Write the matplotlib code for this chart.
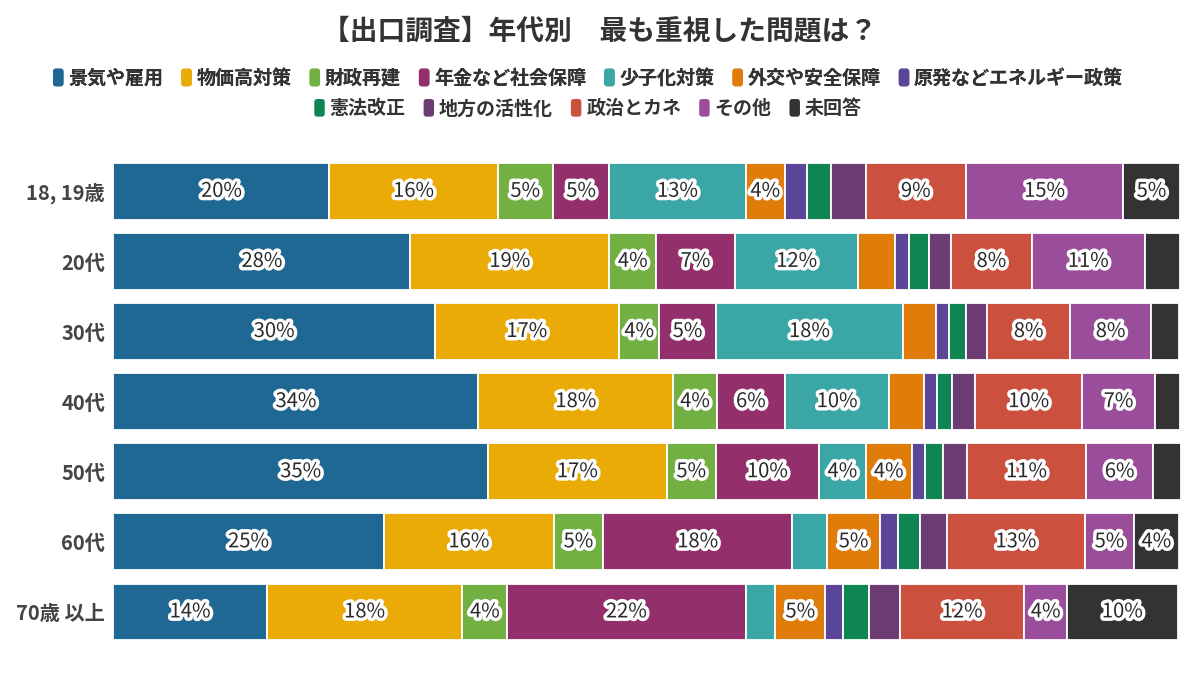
#!/usr/bin/env python3
"""Exit poll: most important issue by age group (100% stacked bars)"""

import matplotlib
matplotlib.use('Agg')
import matplotlib.pyplot as plt
import matplotlib.patches as mpatches
import matplotlib.patheffects as pe
from matplotlib.patches import FancyBboxPatch
from matplotlib.legend_handler import HandlerPatch
import numpy as np

plt.rcParams['font.family'] = ['Noto Sans CJK JP', 'DejaVu Sans']

ages = ['18, 19歳', '20代', '30代', '40代', '50代', '60代', '70歳 以上']
issues = ['景気や雇用', '物価高対策', '財政再建', '年金など社会保障', '少子化対策',
          '外交や安全保障', '原発などエネルギー政策', '憲法改正', '地方の活性化',
          '政治とカネ', 'その他', '未回答']
colors = ['#1f6894', '#ebab07', '#72b043', '#93306c', '#3aa6a6', '#e07c0a',
          '#5b4597', '#0f8554', '#6c3c72', '#cc503e', '#9a4d9b', '#333333']

# shares (%) per issue, one value per age group
keiki    = [20.3, 27.9, 30.2, 34.3, 35.2, 25.4, 14.4]
bukka    = [15.8, 18.7, 17.3, 18.3, 16.8, 16.0, 18.4]
zaisei   = [5.2, 4.4, 3.8, 4.1, 4.6, 4.6, 4.2]
nenkin   = [5.3, 7.4, 5.3, 6.4, 9.7, 17.8, 22.4]
shoshika = [12.8, 11.6, 17.6, 9.8, 4.4, 3.3, 2.8]
gaiko    = [3.7, 3.4, 3.1, 3.3, 4.3, 4.9, 4.7]
genpatsu = [2.1, 1.4, 1.2, 1.2, 1.3, 1.7, 1.7]
kenpo    = [2.2, 1.8, 1.6, 1.4, 1.7, 2.1, 2.4]
chiho    = [3.3, 2.1, 2.0, 2.2, 2.2, 2.5, 2.9]
seiji    = [9.4, 7.6, 7.8, 10.0, 11.2, 13.0, 11.7]
sonota   = [14.8, 10.6, 7.6, 6.9, 6.3, 4.6, 4.0]
mikaitou = [5.3, 3.3, 2.6, 2.3, 2.6, 4.2, 10.4]

series = [keiki, bukka, zaisei, nenkin, shoshika, gaiko, genpatsu, kenpo,
          chiho, seiji, sonota, mikaitou]

fig = plt.figure(figsize=(12, 6.75), dpi=100)
ax = fig.add_axes([0.0945, 0.0415, 0.8895, 0.727])

y = np.arange(len(ages))
left = np.zeros(len(ages))
for name, vals, col in zip(issues, series, colors):
    vals = np.array(vals)
    ax.barh(y, vals, left=left, height=0.81, color=col,
            edgecolor='white', linewidth=1.3, label=name)
    for yi, (l, v) in enumerate(zip(left, vals)):
        if round(v) >= 4:
            ax.text(l + v / 2, yi, f'{v:.0f}%', ha='center', va='center',
                    fontsize=14.5, color='#2a2a2a',
                    path_effects=[pe.withStroke(linewidth=5, foreground='white')])
    left += vals

ax.set_xlim(0, left.max())
ax.set_ylim(len(ages) - 0.5, -0.5)
ax.set_yticks(y)
ax.set_yticklabels(ages, fontsize=14.5, fontweight='bold', color='#444444')
ax.tick_params(axis='y', length=0, pad=6)
ax.set_xticks([])
for s in ax.spines.values():
    s.set_visible(False)

fig.text(0.5, 0.953, '【出口調査】年代別　最も重視した問題は？', ha='center', va='center',
         fontsize=20, fontweight='bold', color='#333333')


# legend swatches: small rounded bars
def rounded(legend, orig_handle, xdescent, ydescent, width, height, fontsize):
    return FancyBboxPatch((-xdescent, -ydescent), width, height,
                          boxstyle='round,pad=0,rounding_size=2')


proxies = [mpatches.Patch(facecolor=c, edgecolor='none') for c in colors]
leg_kw = dict(frameon=False, handlelength=0.55, handleheight=1.05,
              handletextpad=0.25, columnspacing=0.95, borderaxespad=0,
              labelcolor='#333333', prop={'weight': 'bold', 'size': 13.7},
              handler_map={mpatches.Patch: HandlerPatch(patch_func=rounded)})
leg1 = fig.legend(proxies[:7], issues[:7], ncol=7, loc='center',
                  bbox_to_anchor=(0.49, 0.884), **leg_kw)
fig.add_artist(leg1)
fig.legend(proxies[7:], issues[7:], ncol=5, loc='center',
           bbox_to_anchor=(0.49, 0.839), **leg_kw)

plt.savefig('out.png', dpi=100, facecolor='white')
plt.close()
